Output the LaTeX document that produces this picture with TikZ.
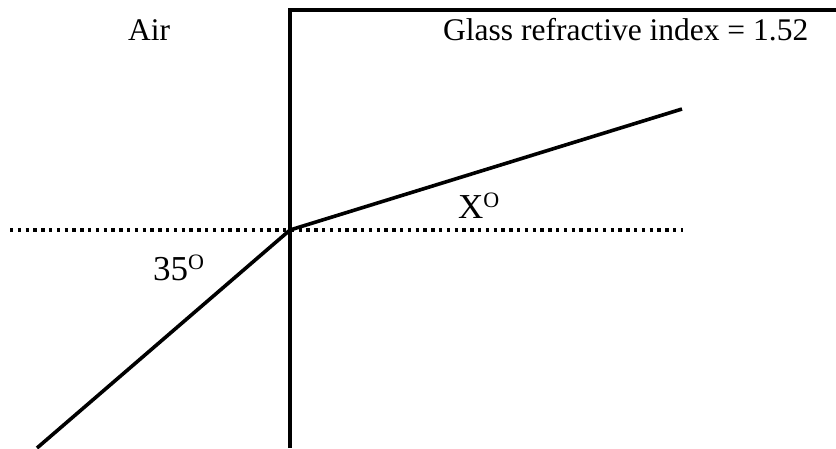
\documentclass[tikz,border=0pt]{standalone}
\usepackage{fontspec}
\setmainfont{Liberation Serif}
\usepackage{tikz}
\usetikzlibrary{positioning}
\newcommand{\supO}{\raisebox{10.5pt}{\fontsize{22}{24}\selectfont O}}

\begin{document}
\begin{tikzpicture}[x=1pt,y=-1pt,
	edge/.style={line width=3.6pt,line cap=butt},
	normal/.style={line width=3.4pt,dash pattern=on 3.4pt off 4.4pt},
	toplabel/.style={font=\fontsize{31.5}{38}\selectfont,inner sep=0pt,anchor=base west},
	anglabel/.style={font=\fontsize{35}{40}\selectfont,inner sep=0pt,anchor=base west}]
		\useasboundingbox (0,0) rectangle (836,448);
		\coordinate (P) at (290,230);
		\coordinate (boxBot) at (290,448);
		\coordinate (boxTop) at (290,10);
		\coordinate (boxRight) at (838,10);
		\coordinate (inStart) at (37,448);
		\coordinate (outEnd) at (682,109);
		\coordinate (normLeft) at (10,230);
		\coordinate (normRight) at (683,230);
		
		% 玻璃边界
		\draw[edge] (boxBot) -- (boxTop) -- (boxRight);
		
		% 法线（点线）
		\draw[normal] (normLeft) -- (normRight);
		
		% 入射光线与折射光线
		\draw[edge] (inStart) -- (P);
		\draw[edge] (P) -- (outEnd);
		
		% 标注
		\node[toplabel] (air) at (128,40) {Air};
		\node[toplabel] (glass) at (443,40) {Glass refractive index = 1.52};
		\node[anglabel] (angX) at (458,218) {X\supO};
		\node[anglabel] (ang35) at (153,280) {35\supO};
	\end{tikzpicture}
\end{document}
